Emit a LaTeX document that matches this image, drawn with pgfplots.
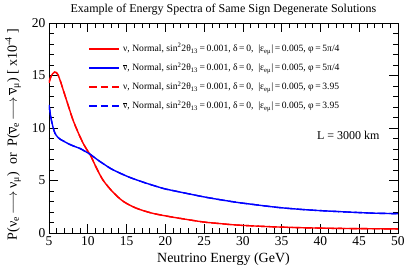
\documentclass[border=0pt]{standalone}
\usepackage{pgfplots}
\pgfplotsset{compat=1.18}
\usepackage{fontspec}
\setmainfont{Liberation Serif}
\newcommand{\nub}{\ensuremath{\overline{\mbox{ν}}}}
\newcommand{\leg}[2]{#1, Normal, sin\textsuperscript{2}2θ\textsubscript{13}\,=\,0.001, δ\,=\,0,~ |ε\textsubscript{eμ}|\,=\,0.005, φ\,=\,#2}
\pgfplotstableread{
x y
5.0 14.3
5.2 14.8
5.45 15.15
5.7 15.32
5.95 15.28
6.2 15.0
6.5 14.4
6.8 13.7
7.5 12.1
8.1 10.75
8.8 9.5
9.4 8.55
10.0 7.8
10.3 7.48
11.15 6.15
12.0 5.0
13.3 3.85
14.6 3.0
16.3 2.35
18.4 1.87
21.0 1.5
22.0 1.38
24.9 1.05
27.0 0.9
29.2 0.76
33.5 0.6
37.8 0.5
42.1 0.44
46.0 0.41
50.0 0.39
}\redtab
\pgfplotstableread{
x y
5.0 12.2
5.2 11.2
5.35 10.6
5.55 10.0
5.77 9.5
6.1 9.15
6.4 8.95
7.0 8.7
7.5 8.5
8.1 8.3
9.0 8.05
9.6 7.8
10.3 7.5
11.3 6.95
12.3 6.45
13.3 6.0
15.4 5.3
17.6 4.73
19.7 4.25
20.6 4.1
21.9 3.9
24.9 3.45
27.0 3.18
29.2 2.92
31.0 2.75
33.5 2.52
35.0 2.4
37.8 2.23
40.0 2.13
42.1 2.05
44.0 1.98
46.4 1.9
48.0 1.87
50.0 1.84
}\bluetab
\begin{document}
\begin{tikzpicture}
\begin{axis}[
  at={(0,0)}, anchor=south west,
  scale only axis, width=349pt, height=210pt,
  xmin=5, xmax=50, ymin=0, ymax=20,
  xtick={5,10,...,50}, ytick={0,5,...,20},
  minor x tick num=4, minor y tick num=4,
  tick align=inside,
  major tick length=9pt, minor tick length=5pt,
  axis line style={line width=0.8pt},
  tick style={line width=0.7pt, black},
  /pgf/number format/assume math mode=true,
  ticklabel style={font=\fontsize{13.5}{15}\selectfont},
  title={Example of Energy Spectra of Same Sign Degenerate Solutions},
  title style={font=\fontsize{12}{14}\selectfont, at={(0.5,1)}, anchor=base, yshift=4.5pt},
  xlabel={Neutrino Energy (GeV)},
  xlabel style={font=\fontsize{14}{16}\selectfont, at={(0.5,0)}, anchor=base, yshift=-29pt},
  ylabel={P(ν\textsubscript{e}\,$\longrightarrow$\,ν\textsubscript{μ})~ or ~P(\nub\textsubscript{e}\,$\longrightarrow$\,\nub\textsubscript{μ}) [ x10\textsuperscript{-4} ]},
  ylabel style={font=\fontsize{14}{16}\selectfont, at={(axis description cs:-0.103,0.47)}, anchor=center},
  legend cell align=left,
  legend style={draw=none, fill=none, at={(axis cs:10.1,18.15)}, anchor=north west,
    inner sep=0pt, row sep=6.6pt, column sep=2pt,
    nodes={inner sep=1pt, text height=8pt, text depth=2.5pt, font=\fontsize{9.6}{11}\selectfont}},
  legend image code/.code={\draw[#1] (0pt,0pt) -- (30pt,0pt);},
]
\addplot[color=red, line width=1.4pt, smooth] table {\redtab};
\addlegendentry{\leg{ν}{5π/4}}
\addplot[color=blue, line width=1.4pt, smooth] table {\bluetab};
\addlegendentry{\leg{\nub}{5π/4}}
\addplot[color=red, line width=1.4pt, smooth, dash pattern=on 7.5pt off 4pt] table {\redtab};
\addlegendentry{\leg{ν}{3.95}}
\addplot[color=blue, line width=1.4pt, smooth, dash pattern=on 7.5pt off 4pt] table {\bluetab};
\addlegendentry{\leg{\nub}{3.95}}
\node[font=\fontsize{12}{14}\selectfont] at (axis cs:43.6,9.3) {L = 3000 km};
\end{axis}
\pgfresetboundingbox
\path (-49pt,-35pt) rectangle (358pt,233pt);
\end{tikzpicture}
\end{document}
